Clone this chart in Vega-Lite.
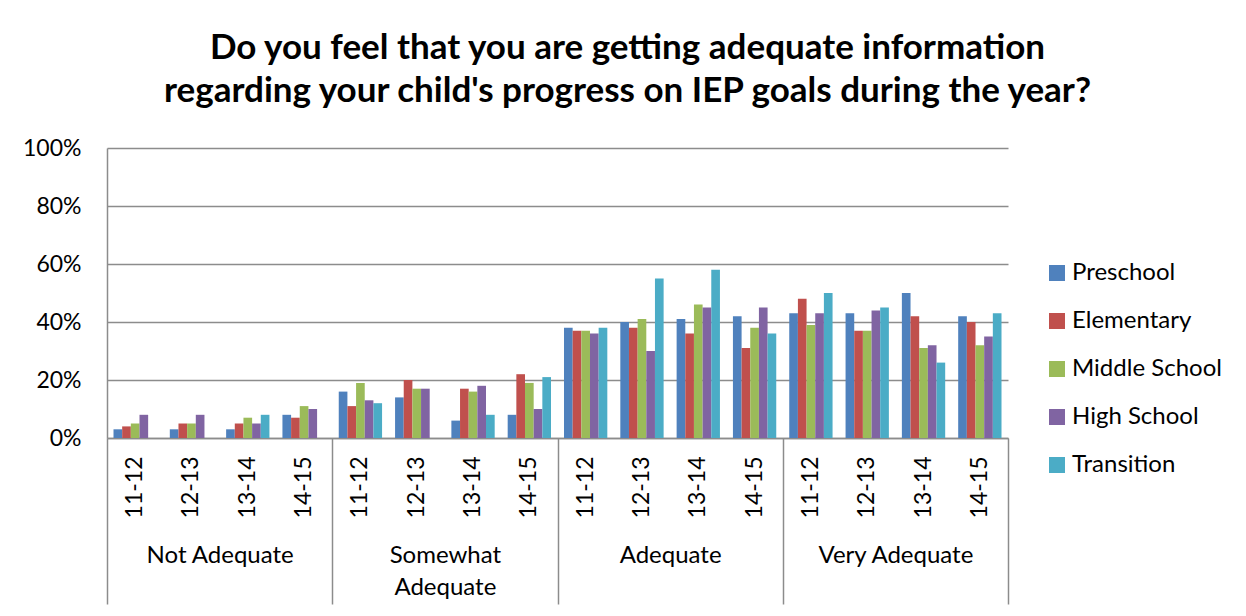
{
  "$schema": "https://vega.github.io/schema/vega-lite/v6.json",
  "width": 901,
  "height": 290,
  "autosize": {"type": "none"},
  "padding": {"left": 107, "top": 148, "right": 238, "bottom": 178},
  "background": "white",
  "config": {"font": "Lato", "view": {"stroke": null}},
  "title": {
    "text": ["Do you feel that you are getting adequate information", "regarding your child's progress on IEP goals during the year?"],
    "font": "Lato",
    "fontSize": 35,
    "fontWeight": "bold",
    "color": "black",
    "anchor": "middle",
    "dx": 70,
    "lineHeight": 43,
    "offset": 28
  },
  "layer": [
    {
      "data": {"values": [
        {"category":"Not Adequate","year":"11-12","slot":"Not Adequate 11-12","level":"Preschool","value":0.03},
        {"category":"Not Adequate","year":"11-12","slot":"Not Adequate 11-12","level":"Elementary","value":0.04},
        {"category":"Not Adequate","year":"11-12","slot":"Not Adequate 11-12","level":"Middle School","value":0.05},
        {"category":"Not Adequate","year":"11-12","slot":"Not Adequate 11-12","level":"High School","value":0.08},
        {"category":"Not Adequate","year":"11-12","slot":"Not Adequate 11-12","level":"Transition","value":0},
        {"category":"Not Adequate","year":"12-13","slot":"Not Adequate 12-13","level":"Preschool","value":0.03},
        {"category":"Not Adequate","year":"12-13","slot":"Not Adequate 12-13","level":"Elementary","value":0.05},
        {"category":"Not Adequate","year":"12-13","slot":"Not Adequate 12-13","level":"Middle School","value":0.05},
        {"category":"Not Adequate","year":"12-13","slot":"Not Adequate 12-13","level":"High School","value":0.08},
        {"category":"Not Adequate","year":"12-13","slot":"Not Adequate 12-13","level":"Transition","value":0},
        {"category":"Not Adequate","year":"13-14","slot":"Not Adequate 13-14","level":"Preschool","value":0.03},
        {"category":"Not Adequate","year":"13-14","slot":"Not Adequate 13-14","level":"Elementary","value":0.05},
        {"category":"Not Adequate","year":"13-14","slot":"Not Adequate 13-14","level":"Middle School","value":0.07},
        {"category":"Not Adequate","year":"13-14","slot":"Not Adequate 13-14","level":"High School","value":0.05},
        {"category":"Not Adequate","year":"13-14","slot":"Not Adequate 13-14","level":"Transition","value":0.08},
        {"category":"Not Adequate","year":"14-15","slot":"Not Adequate 14-15","level":"Preschool","value":0.08},
        {"category":"Not Adequate","year":"14-15","slot":"Not Adequate 14-15","level":"Elementary","value":0.07},
        {"category":"Not Adequate","year":"14-15","slot":"Not Adequate 14-15","level":"Middle School","value":0.11},
        {"category":"Not Adequate","year":"14-15","slot":"Not Adequate 14-15","level":"High School","value":0.10},
        {"category":"Not Adequate","year":"14-15","slot":"Not Adequate 14-15","level":"Transition","value":0},
        {"category":"Somewhat Adequate","year":"11-12","slot":"Somewhat Adequate 11-12","level":"Preschool","value":0.16},
        {"category":"Somewhat Adequate","year":"11-12","slot":"Somewhat Adequate 11-12","level":"Elementary","value":0.11},
        {"category":"Somewhat Adequate","year":"11-12","slot":"Somewhat Adequate 11-12","level":"Middle School","value":0.19},
        {"category":"Somewhat Adequate","year":"11-12","slot":"Somewhat Adequate 11-12","level":"High School","value":0.13},
        {"category":"Somewhat Adequate","year":"11-12","slot":"Somewhat Adequate 11-12","level":"Transition","value":0.12},
        {"category":"Somewhat Adequate","year":"12-13","slot":"Somewhat Adequate 12-13","level":"Preschool","value":0.14},
        {"category":"Somewhat Adequate","year":"12-13","slot":"Somewhat Adequate 12-13","level":"Elementary","value":0.20},
        {"category":"Somewhat Adequate","year":"12-13","slot":"Somewhat Adequate 12-13","level":"Middle School","value":0.17},
        {"category":"Somewhat Adequate","year":"12-13","slot":"Somewhat Adequate 12-13","level":"High School","value":0.17},
        {"category":"Somewhat Adequate","year":"12-13","slot":"Somewhat Adequate 12-13","level":"Transition","value":0},
        {"category":"Somewhat Adequate","year":"13-14","slot":"Somewhat Adequate 13-14","level":"Preschool","value":0.06},
        {"category":"Somewhat Adequate","year":"13-14","slot":"Somewhat Adequate 13-14","level":"Elementary","value":0.17},
        {"category":"Somewhat Adequate","year":"13-14","slot":"Somewhat Adequate 13-14","level":"Middle School","value":0.16},
        {"category":"Somewhat Adequate","year":"13-14","slot":"Somewhat Adequate 13-14","level":"High School","value":0.18},
        {"category":"Somewhat Adequate","year":"13-14","slot":"Somewhat Adequate 13-14","level":"Transition","value":0.08},
        {"category":"Somewhat Adequate","year":"14-15","slot":"Somewhat Adequate 14-15","level":"Preschool","value":0.08},
        {"category":"Somewhat Adequate","year":"14-15","slot":"Somewhat Adequate 14-15","level":"Elementary","value":0.22},
        {"category":"Somewhat Adequate","year":"14-15","slot":"Somewhat Adequate 14-15","level":"Middle School","value":0.19},
        {"category":"Somewhat Adequate","year":"14-15","slot":"Somewhat Adequate 14-15","level":"High School","value":0.10},
        {"category":"Somewhat Adequate","year":"14-15","slot":"Somewhat Adequate 14-15","level":"Transition","value":0.21},
        {"category":"Adequate","year":"11-12","slot":"Adequate 11-12","level":"Preschool","value":0.38},
        {"category":"Adequate","year":"11-12","slot":"Adequate 11-12","level":"Elementary","value":0.37},
        {"category":"Adequate","year":"11-12","slot":"Adequate 11-12","level":"Middle School","value":0.37},
        {"category":"Adequate","year":"11-12","slot":"Adequate 11-12","level":"High School","value":0.36},
        {"category":"Adequate","year":"11-12","slot":"Adequate 11-12","level":"Transition","value":0.38},
        {"category":"Adequate","year":"12-13","slot":"Adequate 12-13","level":"Preschool","value":0.40},
        {"category":"Adequate","year":"12-13","slot":"Adequate 12-13","level":"Elementary","value":0.38},
        {"category":"Adequate","year":"12-13","slot":"Adequate 12-13","level":"Middle School","value":0.41},
        {"category":"Adequate","year":"12-13","slot":"Adequate 12-13","level":"High School","value":0.30},
        {"category":"Adequate","year":"12-13","slot":"Adequate 12-13","level":"Transition","value":0.55},
        {"category":"Adequate","year":"13-14","slot":"Adequate 13-14","level":"Preschool","value":0.41},
        {"category":"Adequate","year":"13-14","slot":"Adequate 13-14","level":"Elementary","value":0.36},
        {"category":"Adequate","year":"13-14","slot":"Adequate 13-14","level":"Middle School","value":0.46},
        {"category":"Adequate","year":"13-14","slot":"Adequate 13-14","level":"High School","value":0.45},
        {"category":"Adequate","year":"13-14","slot":"Adequate 13-14","level":"Transition","value":0.58},
        {"category":"Adequate","year":"14-15","slot":"Adequate 14-15","level":"Preschool","value":0.42},
        {"category":"Adequate","year":"14-15","slot":"Adequate 14-15","level":"Elementary","value":0.31},
        {"category":"Adequate","year":"14-15","slot":"Adequate 14-15","level":"Middle School","value":0.38},
        {"category":"Adequate","year":"14-15","slot":"Adequate 14-15","level":"High School","value":0.45},
        {"category":"Adequate","year":"14-15","slot":"Adequate 14-15","level":"Transition","value":0.36},
        {"category":"Very Adequate","year":"11-12","slot":"Very Adequate 11-12","level":"Preschool","value":0.43},
        {"category":"Very Adequate","year":"11-12","slot":"Very Adequate 11-12","level":"Elementary","value":0.48},
        {"category":"Very Adequate","year":"11-12","slot":"Very Adequate 11-12","level":"Middle School","value":0.39},
        {"category":"Very Adequate","year":"11-12","slot":"Very Adequate 11-12","level":"High School","value":0.43},
        {"category":"Very Adequate","year":"11-12","slot":"Very Adequate 11-12","level":"Transition","value":0.50},
        {"category":"Very Adequate","year":"12-13","slot":"Very Adequate 12-13","level":"Preschool","value":0.43},
        {"category":"Very Adequate","year":"12-13","slot":"Very Adequate 12-13","level":"Elementary","value":0.37},
        {"category":"Very Adequate","year":"12-13","slot":"Very Adequate 12-13","level":"Middle School","value":0.37},
        {"category":"Very Adequate","year":"12-13","slot":"Very Adequate 12-13","level":"High School","value":0.44},
        {"category":"Very Adequate","year":"12-13","slot":"Very Adequate 12-13","level":"Transition","value":0.45},
        {"category":"Very Adequate","year":"13-14","slot":"Very Adequate 13-14","level":"Preschool","value":0.50},
        {"category":"Very Adequate","year":"13-14","slot":"Very Adequate 13-14","level":"Elementary","value":0.42},
        {"category":"Very Adequate","year":"13-14","slot":"Very Adequate 13-14","level":"Middle School","value":0.31},
        {"category":"Very Adequate","year":"13-14","slot":"Very Adequate 13-14","level":"High School","value":0.32},
        {"category":"Very Adequate","year":"13-14","slot":"Very Adequate 13-14","level":"Transition","value":0.26},
        {"category":"Very Adequate","year":"14-15","slot":"Very Adequate 14-15","level":"Preschool","value":0.42},
        {"category":"Very Adequate","year":"14-15","slot":"Very Adequate 14-15","level":"Elementary","value":0.40},
        {"category":"Very Adequate","year":"14-15","slot":"Very Adequate 14-15","level":"Middle School","value":0.32},
        {"category":"Very Adequate","year":"14-15","slot":"Very Adequate 14-15","level":"High School","value":0.35},
        {"category":"Very Adequate","year":"14-15","slot":"Very Adequate 14-15","level":"Transition","value":0.43}
      ]},
      "mark": {"type": "bar"},
      "encoding": {
        "x": {
          "field": "slot",
          "type": "nominal",
          "sort": ["Not Adequate 11-12","Not Adequate 12-13","Not Adequate 13-14","Not Adequate 14-15","Somewhat Adequate 11-12","Somewhat Adequate 12-13","Somewhat Adequate 13-14","Somewhat Adequate 14-15","Adequate 11-12","Adequate 12-13","Adequate 13-14","Adequate 14-15","Very Adequate 11-12","Very Adequate 12-13","Very Adequate 13-14","Very Adequate 14-15"],
          "scale": {"paddingInner": 0.2308, "paddingOuter": 0.1154},
          "axis": {
            "title": null,
            "labelExpr": "slice(datum.label, -5)",
            "labelAngle": -90,
            "labelFontSize": 23,
            "labelColor": "black",
            "labelPadding": 18,
            "ticks": false,
            "domain": true,
            "domainColor": "#8c8c8c",
            "domainWidth": 1.5,
            "grid": false
          }
        },
        "xOffset": {
          "field": "level",
          "type": "nominal",
          "sort": ["Preschool","Elementary","Middle School","High School","Transition"],
          "scale": {"paddingInner": 0, "paddingOuter": 0}
        },
        "y": {
          "field": "value",
          "type": "quantitative",
          "scale": {"domain": [0, 1], "nice": false},
          "axis": {
            "title": null,
            "values": [0, 0.2, 0.4, 0.6, 0.8, 1],
            "format": ".0%",
            "labelFontSize": 23,
            "labelColor": "black",
            "labelPadding": 26,
            "ticks": false,
            "domain": true,
            "domainColor": "#8c8c8c",
            "domainWidth": 1.5,
            "grid": true,
            "gridColor": "#8c8c8c",
            "gridWidth": 1.5
          }
        },
        "color": {
          "field": "level",
          "type": "nominal",
          "sort": ["Preschool","Elementary","Middle School","High School","Transition"],
          "scale": {
            "domain": ["Preschool","Elementary","Middle School","High School","Transition"],
            "range": ["#4F81BD","#C0504D","#9BBB59","#8064A2","#4BACC6"]
          },
          "legend": {
            "title": null,
            "orient": "none",
            "legendX": 938,
            "legendY": 113,
            "symbolType": "square",
            "symbolSize": 256,
            "symbolStrokeWidth": 0,
            "symbolOpacity": 1,
            "labelFontSize": 24,
            "labelColor": "black",
            "labelOffset": 3,
            "rowPadding": 24,
            "labelLimit": 300
          }
        }
      }
    },
    {
      "data": {"values": [
        {"category": "Not Adequate"},
        {"category": "Somewhat Adequate"},
        {"category": "Adequate"},
        {"category": "Very Adequate"}
      ]},
      "mark": {"type": "text", "text": ""},
      "encoding": {
        "x": {
          "field": "category",
          "type": "nominal",
          "sort": ["Not Adequate","Somewhat Adequate","Adequate","Very Adequate"],
          "scale": {"type": "band", "paddingInner": 0, "paddingOuter": 0},
          "axis": {
            "title": null,
            "orient": "bottom",
            "labelAngle": 0,
            "labelExpr": "datum.label == 'Somewhat Adequate' ? ['Somewhat', 'Adequate'] : datum.label",
            "labelFontSize": 24,
            "labelColor": "black",
            "labelLineHeight": 32,
            "labelBaseline": "top",
            "labelPadding": -61,
            "tickBand": "extent",
            "tickSize": 166,
            "tickColor": "#8c8c8c",
            "tickWidth": 1.5,
            "domain": false,
            "grid": false
          }
        }
      }
    }
  ],
  "resolve": {"scale": {"x": "independent"}, "axis": {"x": "independent"}}
}
